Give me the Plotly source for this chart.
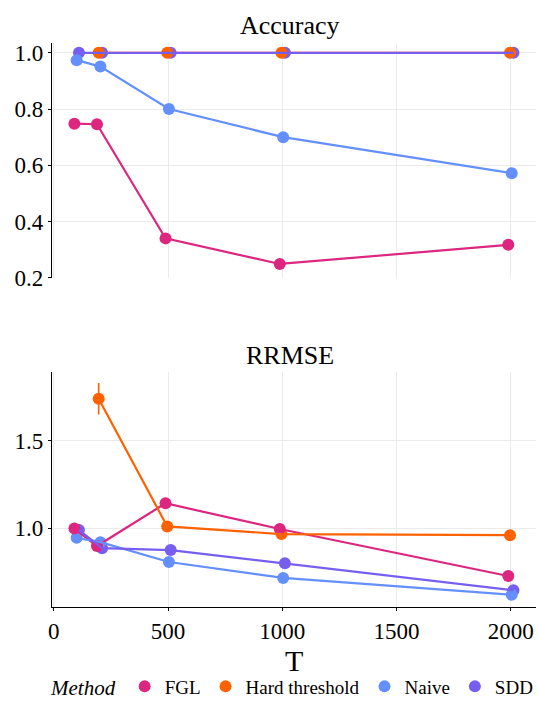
import plotly.graph_objects as go

T = [100, 200, 500, 1000, 2000]
methods = ["FGL", "Hard threshold", "Naive", "SDD"]
colors = {"FGL": "#DC267F", "Hard threshold": "#FE6100", "Naive": "#648FFF", "SDD": "#785EF0"}

acc_fgl = [0.748, 0.746, 0.340, 0.249, 0.317]
acc_ht = [None, 1.0, 1.0, 1.0, 1.0]
acc_naive = [0.974, 0.951, 0.800, 0.700, 0.572]
acc_sdd = [1.0, 1.0, 1.0, 1.0, 1.0]

rr_fgl = [0.998, 0.898, 1.142, 0.995, 0.727]
rr_ht = [None, 1.739, 1.010, 0.966, 0.960]
rr_naive = [0.945, 0.920, 0.807, 0.716, 0.620]
rr_sdd = [0.989, 0.886, 0.875, 0.800, 0.646]

rr_err_ht = [0, 0.09, 0, 0, 0]
zero_err = [0, 0, 0, 0, 0]

acc = {"FGL": acc_fgl, "Hard threshold": acc_ht, "Naive": acc_naive, "SDD": acc_sdd}
rr = {"FGL": rr_fgl, "Hard threshold": rr_ht, "Naive": rr_naive, "SDD": rr_sdd}
rr_err = {"FGL": zero_err, "Hard threshold": rr_err_ht, "Naive": zero_err, "SDD": zero_err}

DODGE = 30


def dodged(data):
    out = {m: [] for m in methods}
    for j, t in enumerate(T):
        present = [m for m in methods if data[m][j] is not None]
        n = len(present)
        for m in methods:
            if m in present:
                i = present.index(m)
                out[m].append(t + (i - (n - 1) / 2) * DODGE / n)
            else:
                out[m].append(None)
    return out


FONT = "Liberation Serif, Times New Roman, DejaVu Serif, serif"
fig = go.Figure()

for panel, (data, xa, ya) in enumerate([(acc, "x", "y"), (rr, "x2", "y2")]):
    xs = dodged(data)
    # points first (reverse order), lines on top
    for m in reversed(methods):
        err = rr_err[m] if panel == 1 else zero_err
        fig.add_trace(go.Scatter(
            x=xs[m], y=data[m], mode="markers", xaxis=xa, yaxis=ya,
            marker=dict(color=colors[m], size=12),
            error_y=dict(type="data", array=err, color=colors[m], thickness=1.6, width=0, visible=True),
            name=m, legendgroup=m, showlegend=(panel == 0),
            legendrank=methods.index(m) + 1,
        ))
    for m in methods:
        fig.add_trace(go.Scatter(
            x=xs[m], y=data[m], mode="lines", xaxis=xa, yaxis=ya,
            line=dict(color=colors[m], width=2.2), connectgaps=False,
            name=m, legendgroup=m, showlegend=False,
        ))

grid = "#EBEBEB"
xcommon = dict(range=[-8, 2110], tickvals=[0, 500, 1000, 1500, 2000], showgrid=True,
               gridcolor=grid, gridwidth=1, zeroline=False)
fig.update_layout(
    width=538, height=707,
    margin=dict(l=52, r=2, t=43, b=97),
    paper_bgcolor="white", plot_bgcolor="white",
    font=dict(family=FONT, size=22, color="#1a1a1a"),
    xaxis=dict(**xcommon, domain=[0, 1], anchor="y", showticklabels=False, ticks="", showline=False),
    xaxis2=dict(**xcommon, domain=[0, 1], anchor="y2", showline=True, linecolor="black", linewidth=1.3,
                ticks="outside", ticklen=3, tickcolor="black", tickfont=dict(family=FONT, size=23, color="black")),
    yaxis=dict(domain=[0.5838, 1], anchor="x", range=[0.2, 1.035], tickvals=[0.2, 0.4, 0.6, 0.8, 1.0],
               ticktext=["0.2", "0.4", "0.6", "0.8", "1.0"],
               showgrid=True, gridcolor=grid, zeroline=False, showline=True, linecolor="black",
               linewidth=1.3, ticks="outside", ticklen=3, tickcolor="black",
               tickfont=dict(family=FONT, size=23, color="black")),
    yaxis2=dict(domain=[0, 0.4162], anchor="x2", range=[0.55, 1.89], tickvals=[1.0, 1.5],
                ticktext=["1.0", "1.5"],
                showgrid=True, gridcolor=grid, zeroline=False, showline=True, linecolor="black",
                linewidth=1.3, ticks="outside", ticklen=3, tickcolor="black",
                tickfont=dict(family=FONT, size=23, color="black")),
    legend=dict(orientation="h", x=0.5, xanchor="center", y=-0.141, yanchor="middle",
                title=dict(text="<i>Method</i>", font=dict(family=FONT, size=21, color="black"), side="left"),
                font=dict(family=FONT, size=19, color="black"), itemwidth=30, tracegroupgap=0),
    annotations=[
        dict(text="Accuracy", x=0.492, y=1.0317, xref="paper", yref="paper", showarrow=False,
             font=dict(family=FONT, size=26, color="black"), xanchor="center", yanchor="middle"),
        dict(text="RRMSE", x=0.492, y=0.446, xref="paper", yref="paper", showarrow=False,
             font=dict(family=FONT, size=26, color="black"), xanchor="center", yanchor="middle"),
        dict(text="T", x=0.5, y=-0.095, xref="paper", yref="paper", showarrow=False,
             font=dict(family=FONT, size=30, color="black"), xanchor="center", yanchor="middle"),
    ],
)

fig.write_html("out.html")
